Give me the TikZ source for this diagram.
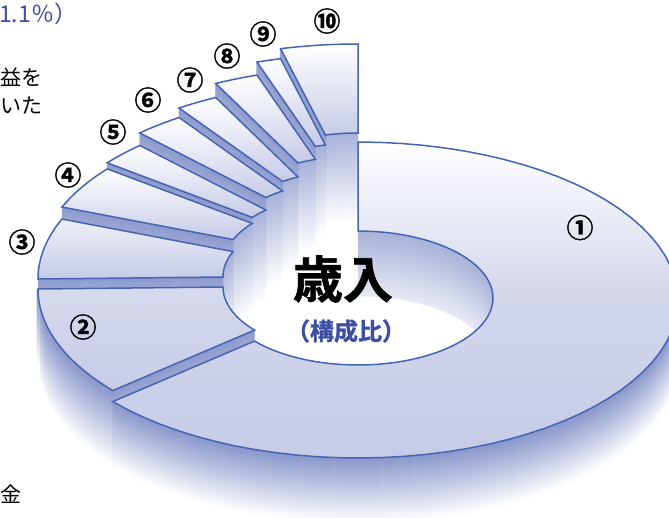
\documentclass[tikz,border=0pt]{standalone}
\usepackage{fontspec}
\newfontfamily\cjk{Noto Sans CJK JP}[BoldFont={Noto Sans CJK JP Bold},BoldFeatures={FakeBold=1.2}]
\definecolor{lc}{RGB}{70,100,180}
\definecolor{wallc}{RGB}{80,100,178}
\definecolor{lav}{RGB}{198,203,231}
\definecolor{txtblue}{RGB}{60,78,162}
\newcommand\Dep{65}
% inner wall: #1 from angle, #2 to angle, #3 level
\newcommand\innerwall[3]{%
 \pgfmathtruncatemacro\hh{300+\Dep-#3}%
 \foreach \k in {0,2,...,\hh}{%
  \pgfmathsetmacro\wint{max(0,50*(1-\k/90))}%
  \draw[line width=2.4pt,wallc!\wint!white] plot[domain=#1:#2,samples=16,variable=\t] ({358+135*cos(\t)},{#3-2+\k-67*sin(\t)});
 }}
% outer wall
\newcommand\outerwall[3]{%
 \pgfmathtruncatemacro\hh{300+\Dep-#3}%
 \foreach \k in {0,2,...,\hh}{%
  \pgfmathsetmacro\wint{max(0,68*(1-\k/\hh))}%
  \draw[line width=2.4pt,wallc!\wint!white] plot[domain=#1:#2,samples=40,variable=\t] ({358+320*cos(\t)},{#3+\k-158*sin(\t)});
 }}
% radial side face: #1 angle, #2 level
\newcommand\sideface[2]{%
 \pgfmathtruncatemacro\hh{300+\Dep-#2}%
 \foreach \k in {0,2,...,\hh}{%
  \pgfmathsetmacro\wint{max(0,66*(1-\k/90))}%
  \draw[line width=2.4pt,wallc!\wint!white] ({358+320*cos(#1)},{#2+\k-158*sin(#1)}) -- ({358+135*cos(#1)},{#2-2+\k-67*sin(#1)});
 }}
% top face
\newcommand\topface[4]{%
 \draw[outl,#4] plot[domain=#1:#2,samples=60,variable=\t] ({358+320*cos(\t)},{#3-158*sin(\t)}) -- plot[domain=#2:#1,samples=60,variable=\t] ({358+135*cos(\t)},{#3-2-67*sin(\t)}) -- cycle;}
\tikzset{
 outl/.style={draw=lc,line width=1.5pt,line join=miter},
 lbl/.style={font=\cjk\bfseries\fontsize{27}{27}\selectfont,inner sep=0pt,text=black},
 side/.style={font=\cjk\fontsize{21}{21}\selectfont,inner sep=0pt,anchor=west,text=black}
}
\begin{document}
\begin{tikzpicture}[x=1pt,y=-1pt]
\useasboundingbox (0,0) rectangle (669,517);
% segment 10
\innerwall{90}{104}{202}\sideface{104}{202}\topface{90}{104}{202}{top color=white,bottom color=lav}
% segment 9
\innerwall{104}{108.4}{212}\sideface{108.4}{212}\topface{104}{108.4}{212}{top color=white,bottom color=lav}
% segment 8
\innerwall{108.4}{116.4}{225}\sideface{116.4}{225}\topface{108.4}{116.4}{225}{top color=white,bottom color=lav}
% segment 7
\innerwall{116.4}{124}{239}\sideface{124}{239}\topface{116.4}{124}{239}{top color=white,bottom color=lav}
% segment 6
\innerwall{124}{133}{248.5}\sideface{133}{248.5}\topface{124}{133}{248.5}{top color=white,bottom color=lav}
% segment 5
\innerwall{133}{141.6}{261}\sideface{141.6}{261}\topface{133}{141.6}{261}{top color=white,bottom color=lav}
% segment 4
\innerwall{141.6}{157.7}{267}\sideface{157.7}{267}\topface{141.6}{157.7}{267}{top color=white,bottom color=lav}
% segment 3
\innerwall{157.7}{180}{279}\sideface{180}{279}\topface{157.7}{180}{279}{top color=white!70!lav,bottom color=lav}
% segment 2
\outerwall{180}{220}{289}\sideface{220}{289}\topface{180}{220}{289}{top color=lav!70!white,bottom color=lav}
% segment 1
\innerwall{0}{90}{300}
\outerwall{220}{360}{300}
\topface{-140}{90}{300}{top color=white,bottom color=lav,middle color=lav!80!white}
% labels
\node[lbl] (n1) at (580,227.5) {①};
\node[lbl] (n2) at (83,327) {②};
\node[lbl] (n3) at (22,242) {③};
\node[lbl] (n4) at (68,175) {④};
\node[lbl] (n5) at (113,132) {⑤};
\node[lbl] (n6) at (148,100) {⑥};
\node[lbl] (n7) at (190,80) {⑦};
\node[lbl] (n8) at (227,56) {⑧};
\node[lbl] (n9) at (263,34) {⑨};
\node[lbl] (n10) at (327,21) {⑩};
\node[font=\cjk\bfseries\fontsize{50}{50}\selectfont,inner sep=0pt] (title) at (343,279) {歳入};
\node[font=\cjk\bfseries\fontsize{24}{24}\selectfont,inner sep=0pt,text=txtblue] (sub) at (346,331) {（構成比）};
\node[side,text=txtblue,font=\cjk\fontsize{23}{23}\selectfont] (p1) at (-1,13.5) {1.1％）};
\node[side] (p2) at (0,77.5) {益を};
\node[side] (p3) at (0,106) {いた};
\node[side] (p4) at (0,494) {金};
\end{tikzpicture}
\end{document}
